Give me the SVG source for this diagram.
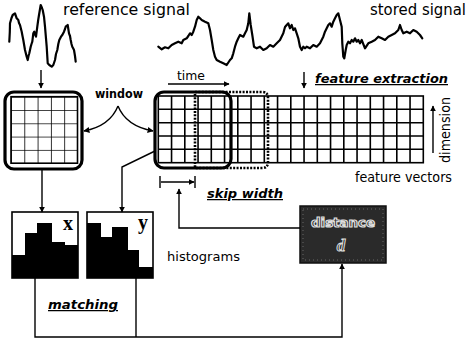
<svg xmlns="http://www.w3.org/2000/svg" width="469" height="345" viewBox="0 0 469 345">
<defs>
<style>
.lbl{font-family:"DejaVu Sans","Liberation Sans",sans-serif;fill:#000}
.em{font-family:"DejaVu Sans","Liberation Sans",sans-serif;font-weight:bold;font-style:italic;text-decoration:underline;fill:#000}
.sig{fill:none;stroke:#000;stroke-width:2.2;stroke-linejoin:round;stroke-linecap:round}
.ln{fill:none;stroke:#000;stroke-width:1.4}
.grid{fill:none;stroke:#000;stroke-width:1.6}
.bold{fill:none;stroke:#000;stroke-width:3.2}
.dot{fill:none;stroke:#000;stroke-width:2.6;stroke-dasharray:2 1.4}
</style>
<marker id="ah" viewBox="0 0 10 10" refX="9" refY="5" markerWidth="6" markerHeight="6" orient="auto-start-reverse" markerUnits="userSpaceOnUse">
<path d="M0,0 L10,5 L0,10 z" fill="#000"/>
</marker>
<pattern id="g1" x="11" y="96.7" width="13.3" height="13.3" patternUnits="userSpaceOnUse">
<path d="M0,0 H13.3 M0,0 V13.3" stroke="#000" stroke-width="1.6" fill="none"/>
</pattern>
</defs>

<g id="reference-signal">
<polyline class="sig" points="9.3,41.7 9.8,32 10,23.3 11.5,18 12.7,15 15,13.3 16.7,18.3 18.3,20 19,23 20,25 21,29 21.7,31.7 22.5,36 23.3,40 25,50 26.7,56.7 27.7,60 28.5,56 29.3,53.3 30.7,46.7 31.5,44 32.3,41.7 33.3,33.3 34.3,31.7 35,34 36,36.7 37.3,26.7 38.2,20 39,15 40.7,5 42,8 42.7,10 44,16.7 45,26.7 46.7,46.7 47.7,63.3 49.3,65 51.7,66.7 53.3,65 55,60 56,54 57.3,50 58.3,44 59.3,40 61,36.7 62.3,35 64,31.7 65,29 65.7,26.7 67.7,25 69,33.3 70,36 70.7,40 71.5,44 72.3,46.7 73,48 74,50 75,56 75.7,61.7"/>
<text class="lbl" x="63" y="15" font-size="15.5" textLength="127" lengthAdjust="spacingAndGlyphs">reference signal</text>
</g>

<g id="stored-signal">
<polyline class="sig" points="158.3,46.7 161.7,49.3 165,47.3 168.3,48.3 171.7,45 175,43.3 178.3,41.7 181.7,43.3 183.3,40 186.7,38.3 188.3,36 190,33.3 191.7,35 193.3,31.7 195,26.7 196.7,20 198.3,16.7 200,18.3 201.7,20 205,21.7 208.3,23.3 210,30 211.7,40 213.3,50 215,56.7 216.7,60 220,61.7 223.3,63.3 226.7,65 230,60 231.7,58.3 233.3,53.3 235,46.7 236.7,41.7 238.3,38.3 240,35 243.3,36.7 245,33.3 246.7,30 248.3,23.3 249.3,13.3 250.7,25 252.3,35 254,46.7 256.7,48.3 260,46.7 263.3,50 266.7,48.3 270,45 273.3,46.7 276.7,43.3 280,40 283.3,33.3 285,27 286.7,25 288.3,23.3 290,28.3 291.7,25 293.3,30 295,28.3 296.7,33.3 298.3,38.3 300,46.7 301.7,50 303.3,46.7 305,48.3 306.7,46.7 310,48.3 313.3,45 316.7,46.7 320,43.3 323.3,36.7 325,31.7 326.7,28.3 328.3,25 330,23.3 331.7,26.7 333.3,21.7 335,18.3 336.7,15 338.3,13.3 340,20 341.7,26.7 342.3,43.3 343.3,56.7 344.3,58.3 345.7,50 346.7,45 348.3,41.7 350,43.3 351.7,40 353.3,41.7 355,38.3 356.7,41.7 358.3,40 360,43.3 361.7,40 365,48.3 368.3,43.3 371.7,41.7 375,40 378.3,36.7 381.7,38.3 385,40 388.3,36.7 391.7,35 395,33.3 398.3,30 400,25 401.7,30 403.3,33.3 406.7,31.7 410,33.3 413.3,30 416.7,31.7 420,35 422.3,38.3"/>
<text class="lbl" x="370" y="15" font-size="15.5" textLength="96" lengthAdjust="spacingAndGlyphs">stored signal</text>
</g>

<g id="reference-window">
<rect x="11" y="96.7" width="66.5" height="66.5" fill="url(#g1)"/>
<rect class="grid" x="11" y="96.7" width="66.5" height="66.5"/>
<rect class="bold" x="5" y="92" width="77" height="77" rx="9"/>
</g>

<g id="window-label">
<text class="lbl" x="119" y="98" font-size="13" font-weight="bold" text-anchor="middle" textLength="48" lengthAdjust="spacingAndGlyphs">window</text>
</g>

<g id="feature-vectors">
<g class="grid">
<rect x="158.3" y="96" width="265" height="66.7"/>
<path d="M158.3,109.3H423.3M158.3,122.7H423.3M158.3,136H423.3M158.3,149.3H423.3"/>
<path d="M171.55,96V162.7M184.8,96V162.7M198.05,96V162.7M211.3,96V162.7M224.55,96V162.7M237.8,96V162.7M251.05,96V162.7M264.3,96V162.7M277.55,96V162.7M290.8,96V162.7M304.05,96V162.7M317.3,96V162.7M330.55,96V162.7M343.8,96V162.7M357.05,96V162.7M370.3,96V162.7M383.55,96V162.7M396.8,96V162.7M410.05,96V162.7"/>
</g>
<path class="dot" d="M195,92 H262 Q268,92 268,98 V162 Q268,168 262,168 H195 V92"/>
<rect class="bold" x="155" y="92" width="76" height="76" rx="9"/>
<text class="lbl" x="355" y="182" font-size="14" textLength="97" lengthAdjust="spacingAndGlyphs">feature vectors</text>
<text class="lbl" x="0" y="0" font-size="13.5" text-anchor="middle" transform="translate(450,130) rotate(-90)" textLength="66" lengthAdjust="spacingAndGlyphs">dimension</text>
<text class="lbl" x="191" y="80" font-size="13" text-anchor="middle" textLength="28" lengthAdjust="spacingAndGlyphs">time</text>
<text class="em" x="315" y="83" font-size="12.5" textLength="133" lengthAdjust="spacingAndGlyphs">feature extraction</text>
<text class="em" x="207" y="198" font-size="12.5" textLength="76" lengthAdjust="spacingAndGlyphs">skip width</text>
</g>

<g id="histogram-x">
<rect x="12" y="212" width="66" height="66" fill="#fff" stroke="#000" stroke-width="1.6"/>
<path d="M12,278 V255 H25 V233 H37 V223 H52 V242 H65 V245 H78 V278 Z" fill="#000"/>
<text x="68" y="230" font-family="Liberation Serif,serif" font-weight="bold" font-size="20" text-anchor="middle">x</text>
</g>

<g id="histogram-y">
<rect x="87" y="212" width="66" height="66" fill="#fff" stroke="#000" stroke-width="1.6"/>
<path d="M87,278 V223 H101 V237 H112 V227 H128 V250 H139 V267 H153 V278 Z" fill="#000"/>
<text x="143" y="229" font-family="Liberation Serif,serif" font-weight="bold" font-size="20" text-anchor="middle">y</text>
</g>

<g id="histograms-label">
<text class="lbl" x="167" y="261" font-size="13" textLength="73" lengthAdjust="spacingAndGlyphs">histograms</text>
</g>

<g id="distance">
<rect x="300" y="206" width="86" height="57" fill="#2a2a2a" stroke="#111" stroke-width="1.5"/>
<rect x="303" y="209" width="80" height="51" fill="none" stroke="#666" stroke-width="1" stroke-dasharray="1 3"/>
<text x="343" y="227" font-family="DejaVu Sans,sans-serif" font-weight="bold" font-size="13" text-anchor="middle" fill="#2a2a2a" stroke="#ddd" stroke-width="1.2" textLength="64" lengthAdjust="spacingAndGlyphs">distance</text>
<text x="341" y="251" font-family="Liberation Serif,serif" font-style="italic" font-weight="bold" font-size="17" text-anchor="middle" fill="#2a2a2a" stroke="#ddd" stroke-width="1">d</text>
</g>

<g id="matching-label">
<text class="em" x="48" y="309" font-size="12.5" textLength="70" lengthAdjust="spacingAndGlyphs">matching</text>
</g>

<g id="connectors">
<line class="ln" x1="41" y1="70" x2="41" y2="88" marker-end="url(#ah)"/>
<path class="ln" d="M118,106 Q110,126 84,131" marker-end="url(#ah)"/>
<path class="ln" d="M118,106 Q126,126 153,131" marker-end="url(#ah)"/>
<line class="ln" x1="168" y1="84" x2="229" y2="84" marker-end="url(#ah)"/>
<line class="ln" x1="304" y1="72" x2="304" y2="88" marker-end="url(#ah)"/>
<line class="ln" x1="433" y1="153" x2="433" y2="106" marker-end="url(#ah)"/>
<path class="ln" d="M160,176 V188 M195,176 V188"/>
<line class="ln" x1="161" y1="182" x2="194" y2="182" marker-end="url(#ah)"/>
<path class="ln" d="M300,228 H179 V189" marker-end="url(#ah)"/>
<line class="ln" x1="42" y1="169" x2="42" y2="212" marker-end="url(#ah)"/>
<path class="ln" d="M155,151 L122,167 V212" marker-end="url(#ah)"/>
<path class="ln" d="M35,278 V337 H342 V264" marker-end="url(#ah)"/>
<line class="ln" x1="136" y1="278" x2="136" y2="337"/>
</g>
</svg>
